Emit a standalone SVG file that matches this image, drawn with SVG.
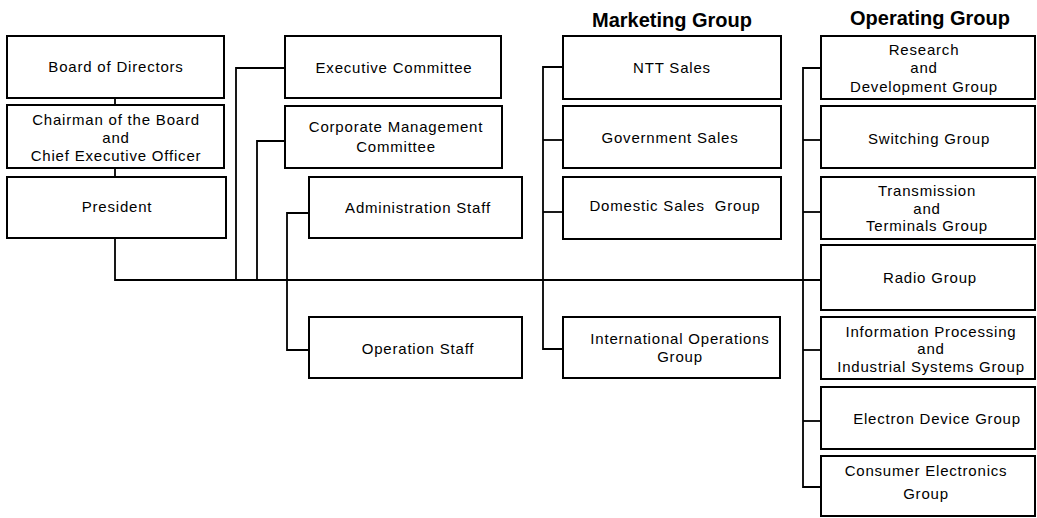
<svg xmlns="http://www.w3.org/2000/svg" width="1037" height="518" viewBox="0 0 1037 518">
  <style>
    .box { fill: #fff; stroke: #000; stroke-width: 2; }
    .lbl { font-family: "Liberation Sans", Arial, sans-serif; font-size: 15px; letter-spacing: 0.8px; text-anchor: middle; fill: #000; white-space: pre; }
    .ttl { font-family: "Liberation Sans", Arial, sans-serif; font-size: 20px; font-weight: bold; text-anchor: middle; fill: #000; }
    .wire { fill: none; stroke: #000; stroke-width: 1.8; }
  </style>
  <rect width="1037" height="518" fill="#fff"/>

  <!-- group headings -->
  <text class="ttl" x="672" y="27">Marketing Group</text>
  <text class="ttl" x="930" y="25">Operating Group</text>

  <!-- connectors -->
  <g id="connectors">
    <line class="wire" x1="115" y1="98" x2="115" y2="105"/>
    <line class="wire" x1="115" y1="168" x2="115" y2="177"/>
    <polyline class="wire" points="115,238 115,280 821,280"/>
    <polyline class="wire" points="285,68 236,68 236,280"/>
    <polyline class="wire" points="285,141 257,141 257,280"/>
    <polyline class="wire" points="309,213 287,213 287,350 309,350"/>
    <polyline class="wire" points="563,67 543,67 543,349 563,349"/>
    <line class="wire" x1="543" y1="140" x2="563" y2="140"/>
    <line class="wire" x1="543" y1="212" x2="563" y2="212"/>
    <polyline class="wire" points="821,68 803,68 803,487 821,487"/>
    <line class="wire" x1="803" y1="140" x2="821" y2="140"/>
    <line class="wire" x1="803" y1="212" x2="821" y2="212"/>
    <line class="wire" x1="803" y1="350" x2="821" y2="350"/>
    <line class="wire" x1="803" y1="421" x2="821" y2="421"/>
  </g>

  <!-- executive column -->
  <g id="board">
    <rect class="box" x="7" y="36" width="217" height="62"/>
    <text class="lbl" x="116" y="72">Board of Directors</text>
  </g>
  <g id="chairman">
    <rect class="box" x="7" y="105" width="217" height="63"/>
    <text class="lbl" x="116" y="125">Chairman of the Board</text>
    <text class="lbl" x="116" y="143">and</text>
    <text class="lbl" x="116" y="161">Chief Executive Officer</text>
  </g>
  <g id="president">
    <rect class="box" x="7" y="177" width="219" height="61"/>
    <text class="lbl" x="117" y="212">President</text>
  </g>

  <!-- committees and staff -->
  <g id="exec-committee">
    <rect class="box" x="285" y="36" width="216" height="62"/>
    <text class="lbl" x="394" y="73">Executive Committee</text>
  </g>
  <g id="corp-committee">
    <rect class="box" x="285" y="106" width="217" height="62"/>
    <text class="lbl" x="396" y="132">Corporate Management</text>
    <text class="lbl" x="396" y="152">Committee</text>
  </g>
  <g id="admin-staff">
    <rect class="box" x="309" y="177" width="213" height="61"/>
    <text class="lbl" x="418" y="213">Administration Staff</text>
  </g>
  <g id="operation-staff">
    <rect class="box" x="309" y="317" width="213" height="61"/>
    <text class="lbl" x="418" y="354">Operation Staff</text>
  </g>

  <!-- marketing group -->
  <g id="ntt-sales">
    <rect class="box" x="563" y="36" width="218" height="63"/>
    <text class="lbl" x="672" y="73">NTT Sales</text>
  </g>
  <g id="government-sales">
    <rect class="box" x="563" y="106" width="218" height="62"/>
    <text class="lbl" x="670" y="143">Government Sales</text>
  </g>
  <g id="domestic-sales">
    <rect class="box" x="563" y="177" width="218" height="62"/>
    <text class="lbl" x="675" y="211">Domestic Sales  Group</text>
  </g>
  <g id="international-ops">
    <rect class="box" x="563" y="317" width="217" height="61"/>
    <text class="lbl" x="680" y="344">International Operations</text>
    <text class="lbl" x="680" y="362">Group</text>
  </g>

  <!-- operating group -->
  <g id="research">
    <rect class="box" x="821" y="36" width="214" height="63"/>
    <text class="lbl" x="924" y="55">Research</text>
    <text class="lbl" x="924" y="73">and</text>
    <text class="lbl" x="924" y="92">Development Group</text>
  </g>
  <g id="switching">
    <rect class="box" x="821" y="106" width="214" height="62"/>
    <text class="lbl" x="929" y="144">Switching Group</text>
  </g>
  <g id="transmission">
    <rect class="box" x="821" y="177" width="214" height="62"/>
    <text class="lbl" x="927" y="196">Transmission</text>
    <text class="lbl" x="927" y="214">and</text>
    <text class="lbl" x="927" y="231">Terminals Group</text>
  </g>
  <g id="radio">
    <rect class="box" x="821" y="245" width="214" height="65"/>
    <text class="lbl" x="930" y="283">Radio Group</text>
  </g>
  <g id="info-processing">
    <rect class="box" x="821" y="317" width="214" height="62"/>
    <text class="lbl" x="931" y="337">Information Processing</text>
    <text class="lbl" x="931" y="354">and</text>
    <text class="lbl" x="931" y="372">Industrial Systems Group</text>
  </g>
  <g id="electron-device">
    <rect class="box" x="821" y="387" width="214" height="62"/>
    <text class="lbl" x="937" y="424">Electron Device Group</text>
  </g>
  <g id="consumer-electronics">
    <rect class="box" x="821" y="456" width="214" height="60"/>
    <text class="lbl" x="926" y="476">Consumer Electronics</text>
    <text class="lbl" x="926" y="499">Group</text>
  </g>
</svg>
